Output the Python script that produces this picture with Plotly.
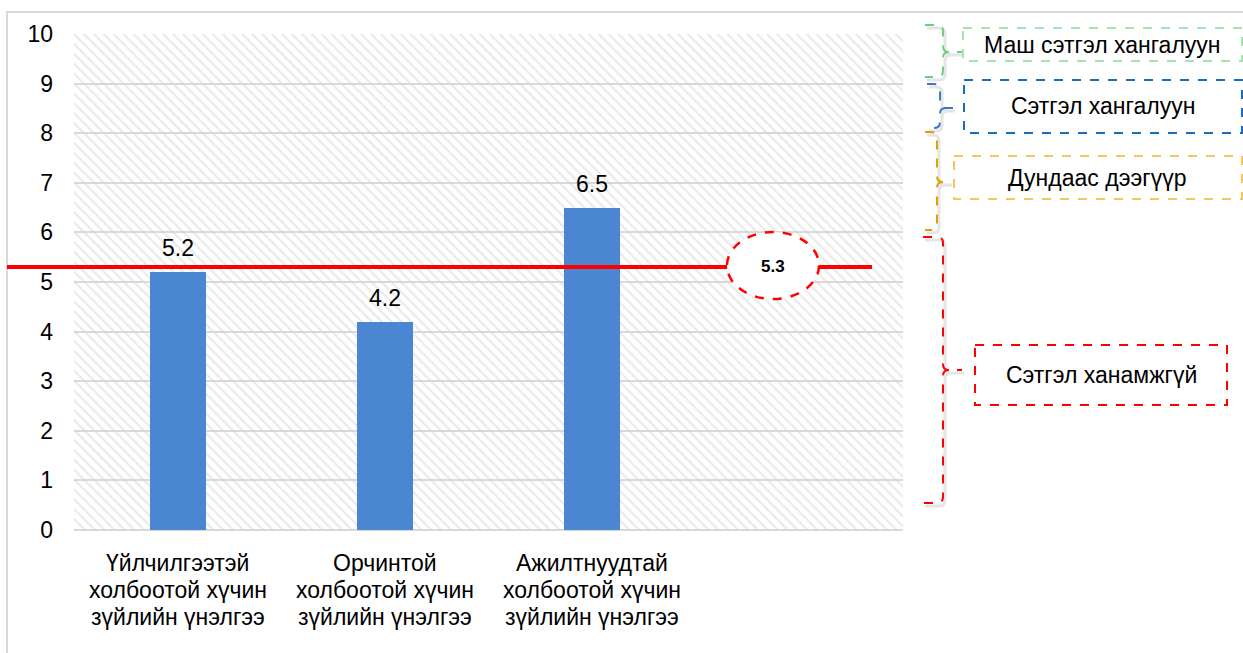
import plotly.graph_objects as go

# ---------------- data ----------------
categories = [
    ["Үйлчилгээтэй", "холбоотой хүчин", "зүйлийн үнэлгээ"],
    ["Орчинтой", "холбоотой хүчин", "зүйлийн үнэлгээ"],
    ["Ажилтнуудтай", "холбоотой хүчин", "зүйлийн үнэлгээ"],
]
values = [5.2, 4.2, 6.5]
average = 5.3
y_ticks = list(range(0, 11))
n_slots = 4
band_labels = ["Маш сэтгэл хангалуун", "Сэтгэл хангалуун", "Дундаас дээгүүр", "Сэтгэл ханамжгүй"]

# ---------------- layout geometry (pixels) ----------------
WIDTH, HEIGHT = 1243, 653
L, R, T, B = 74, 903, 34, 530
FONT = "Arial, Liberation Sans, sans-serif"


def px(x):
    return (x - L) / (R - L)


def py(y):
    return (B - y) / (B - T)


fig = go.Figure()

# hatched background (drawn as a full-width bar beneath the data bars)
fig.add_trace(go.Bar(
    x=[(n_slots - 1) / 2], y=[10], width=n_slots, base=0,
    marker=dict(color="rgba(0,0,0,0)", line=dict(width=0),
                pattern=dict(shape="\\", fgcolor="#d4d4d4", bgcolor="rgba(0,0,0,0)",
                             size=7, solidity=0.3)),
    showlegend=False, hoverinfo="skip",
))

xs = list(range(len(values)))
fig.add_trace(go.Bar(
    x=xs, y=values, width=0.27,
    marker=dict(color="#4a86d1", line=dict(width=0)),
    showlegend=False, hoverinfo="skip",
))

shapes = []
annotations = []

# value labels
for i, v in enumerate(values):
    annotations.append(dict(
        x=i, y=v, xref="x", yref="y", text=f"{v:.1f}", showarrow=False,
        xanchor="center", yanchor="bottom", yshift=9,
        font=dict(family=FONT, size=23, color="#000"),
    ))

# category labels (three lines each)
line_centers = [563, 590, 617]
for i, lines in enumerate(categories):
    for j, t in enumerate(lines):
        annotations.append(dict(
            x=i, y=py(line_centers[j]), xref="x", yref="paper", text=t,
            showarrow=False, yanchor="middle", xanchor="center",
            font=dict(family=FONT, size=23, color="#000"),
        ))

# outer frame
shapes.append(dict(
    type="path", xref="paper", yref="paper",
    path=f"M {px(7)},{py(700)} L {px(7)},{py(12)} L {px(1300)},{py(12)}",
    line=dict(color="#d9d9d9", width=2), layer="below",
))

# average line
shapes.append(dict(
    type="line", xref="paper", yref="y", x0=px(7), x1=px(872), y0=average, y1=average,
    line=dict(color="#ff0000", width=4), layer="above",
))
# ellipse with average label
shapes.append(dict(
    type="circle", xref="paper", yref="paper",
    x0=px(727), x1=px(819), y0=py(232), y1=py(299),
    line=dict(color="#ff0000", width=2.5, dash="dash"), fillcolor="white", layer="above",
))
annotations.append(dict(
    x=px(773), y=py(266), xref="paper", yref="paper", text=f"<b>{average}</b>",
    showarrow=False, xanchor="center", yanchor="middle",
    font=dict(family=FONT, size=17, color="#000"),
))


def brace(x0, x1, tip, top, mid, bot, r=6):
    pts = [
        f"M {px(x0)},{py(top)}",
        f"L {px(x1 - r)},{py(top)}",
        f"Q {px(x1)},{py(top)} {px(x1)},{py(top + r)}",
        f"L {px(x1)},{py(mid - r)}",
        f"Q {px(x1)},{py(mid)} {px(x1 + r)},{py(mid)}",
        f"L {px(tip)},{py(mid)}",
        f"M {px(x1 + r)},{py(mid)}",
        f"Q {px(x1)},{py(mid)} {px(x1)},{py(mid + r)}",
        f"L {px(x1)},{py(bot - r)}",
        f"Q {px(x1)},{py(bot)} {px(x1 - r)},{py(bot)}",
        f"L {px(x0)},{py(bot)}",
    ]
    return " ".join(pts)


bands = [
    # brace (x0, x1, tip, top, mid, bot), brace color, box (x0, x1, y0, y1), box color, text center
    ((925, 943, 962, 25, 52, 77), "#6fcf80", (963, 1242, 28, 61), "#a6e3b0", (1102, 45)),
    ((927, 940, 953, 84, 108, 128), "#3a78c8", (964, 1242, 80, 133), "#1a6cc2", (1103, 106)),
    ((925, 937, 950, 132, 182, 230), "#e0a000", (954, 1242, 156, 199), "#f5c65a", (1097, 178)),
    ((923, 943, 962, 237, 370, 503), "#ff0000", (975, 1227, 345, 405), "#ff0000", (1101, 375)),
]
for (bx, bcol, box, boxcol, tc), label in zip(bands, band_labels):
    x0, x1, tip, top, mid, bot = bx
    # soft shadow
    shapes.append(dict(type="path", xref="paper", yref="paper",
                       path=brace(x0 + 2, x1 + 2, tip + 2, top + 3, mid + 3, bot + 3),
                       line=dict(color="rgba(0,0,0,0.10)", width=3)))
    shapes.append(dict(type="path", xref="paper", yref="paper",
                       path=brace(x0, x1, tip, top, mid, bot),
                       line=dict(color=bcol, width=2, dash="dash")))
    shapes.append(dict(type="rect", xref="paper", yref="paper",
                       x0=px(box[0]), x1=px(box[1]), y0=py(box[2]), y1=py(box[3]),
                       line=dict(color=boxcol, width=2, dash="dash"), fillcolor="white"))
    annotations.append(dict(x=px(tc[0]), y=py(tc[1]), xref="paper", yref="paper",
                            text=label, showarrow=False, xanchor="center", yanchor="middle",
                            font=dict(family=FONT, size=23, color="#000")))

fig.update_layout(
    width=WIDTH, height=HEIGHT,
    margin=dict(l=L, r=WIDTH - R, t=T, b=HEIGHT - B, pad=0),
    paper_bgcolor="white", plot_bgcolor="white",
    shapes=shapes, annotations=annotations,
    barmode="overlay", bargap=0,
    xaxis=dict(range=[-0.5, n_slots - 0.5], showticklabels=False, showgrid=False,
               zeroline=False, showline=False, fixedrange=True),
    yaxis=dict(range=[0, 10], tickvals=y_ticks, showgrid=True, gridcolor="#d9d9d9",
               gridwidth=1.5, zeroline=True, zerolinecolor="#d9d9d9", zerolinewidth=1.5,
               showline=False, ticks="", ticklabelstandoff=20,
               tickfont=dict(family=FONT, size=23, color="#000"), fixedrange=True),
)

fig.write_html("out.html", config={"displayModeBar": False},
               post_script="document.body.style.margin='0';document.body.style.overflow='hidden';")
